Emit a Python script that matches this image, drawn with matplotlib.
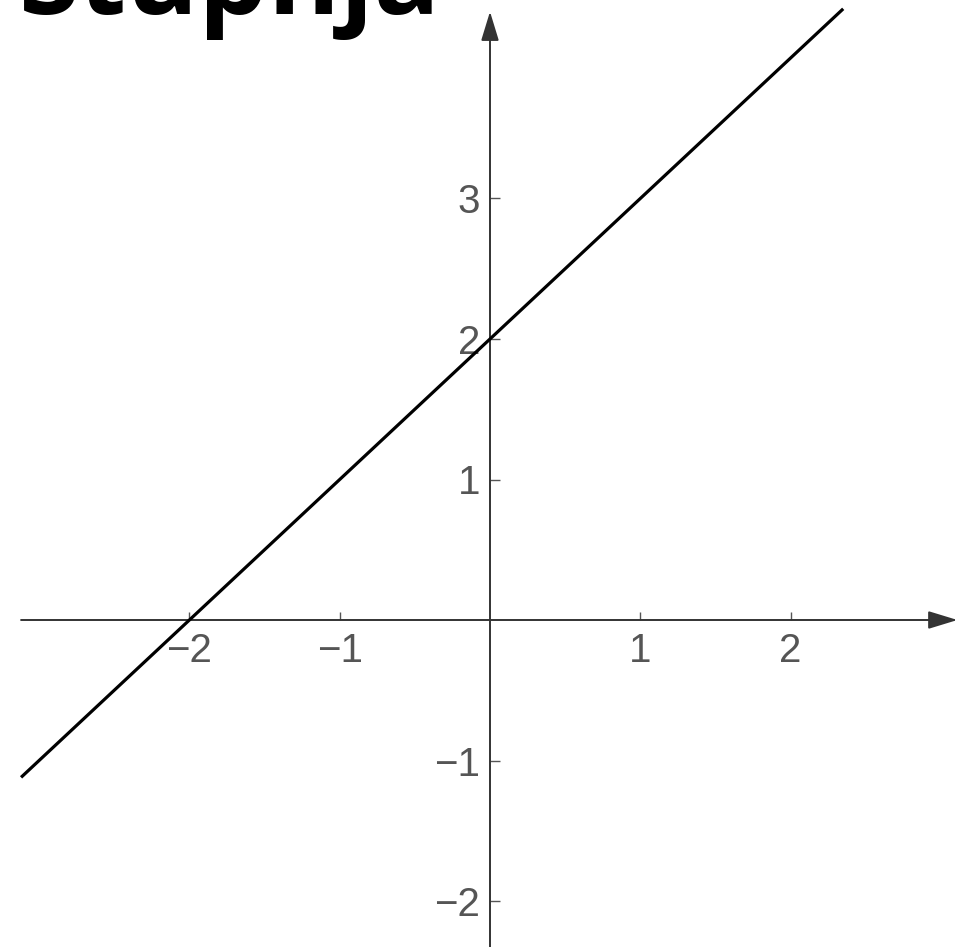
import matplotlib
matplotlib.use("Agg")
import matplotlib.pyplot as plt

# data
line_x = [-3.12, 2.35]
line_y = [-1.12, 4.35]
x_ticks = [-2, -1, 1, 2]
y_ticks = [-2, -1, 1, 2, 3]
title_text = "Stupnja"

fig = plt.figure(figsize=(9.74, 9.47), dpi=100)
ax = fig.add_axes([0, 0, 1, 1])
ax.set_xlim(-490 / 150.3, 484 / 150.3)
ax.set_ylim(-327 / 140.5, 620 / 140.5)

for s in ["top", "right"]:
    ax.spines[s].set_visible(False)
ax.spines["left"].set_position(("data", 0))
ax.spines["bottom"].set_position(("data", 0))
ax.spines["left"].set_color("none")
ax.spines["bottom"].set_color("none")
ax.patch.set_alpha(0)

axis_col = "#333333"
# axes lines with arrows
ax.annotate("", xy=(3.11, 0), xytext=(-3.12, 0),
            arrowprops=dict(arrowstyle="-|>,head_length=1.8,head_width=0.55",
                            mutation_scale=10, color=axis_col, lw=1.4,
                            shrinkA=0, shrinkB=0))
ax.annotate("", xy=(0, 4.33), xytext=(0, -2.4),
            arrowprops=dict(arrowstyle="-|>,head_length=1.8,head_width=0.55",
                            mutation_scale=10, color=axis_col, lw=1.4,
                            shrinkA=0, shrinkB=0))

ax.set_xticks(x_ticks)
ax.set_yticks(y_ticks)
ax.set_xticklabels(["\u22122", "\u22121", "1", "2"])
ax.set_yticklabels(["\u22122", "\u22121", "1", "2", "3"])
ax.tick_params(axis="x", direction="in", length=6, width=1, color="#555555",
               pad=9, labelsize=29, labelcolor="#555555")
ax.tick_params(axis="y", direction="in", length=7, width=1, color="#555555",
               pad=7, labelsize=29, labelcolor="#555555")
for lab in ax.get_xticklabels() + ax.get_yticklabels():
    lab.set_fontfamily("Liberation Sans")

ax.plot(line_x, line_y, color="black", lw=2.3, solid_capstyle="butt", zorder=5)

fig.text(0.019, 1 - 14 / 947, title_text, fontsize=79, fontweight="bold",
         family="Open Sans", va="baseline", ha="left", color="black")

fig.savefig("out.png", dpi=100)
